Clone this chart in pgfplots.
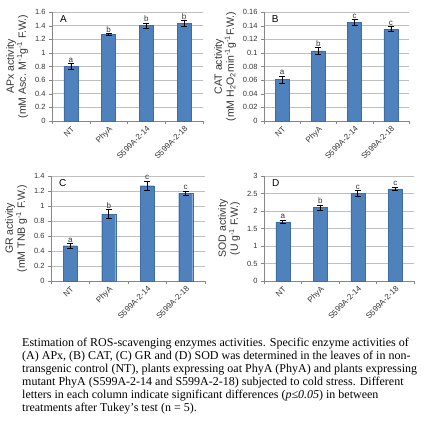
\documentclass[border=0pt]{standalone}
\usepackage{fontspec}
\setmainfont{Liberation Serif}
\setsansfont{Liberation Sans}
\usepackage{pgfplots}
\usepackage{pgfplotstable}
\pgfplotsset{compat=1.18}
\definecolor{barblue}{HTML}{4F81BD}
\definecolor{baredge}{HTML}{3C6BA6}
\definecolor{gridgray}{HTML}{BFBFBF}
\definecolor{axgray}{HTML}{868686}

\pgfplotstableread{
x y e l
0 0.80 0.045 a
1 1.27 0.010 b
2 1.40 0.040 b
3 1.43 0.045 b
}\dataA
\pgfplotstableread{
x y e l
0 0.061 0.005 a
1 0.103 0.005 b
2 0.145 0.004 c
3 0.135 0.004 c
}\dataB
\pgfplotstableread{
x y e l
0 0.47 0.030 a
1 0.89 0.060 b
2 1.27 0.060 c
3 1.17 0.030 c
}\dataC
\pgfplotstableread{
x y e l
0 1.69 0.050 a
1 2.10 0.070 b
2 2.50 0.080 c
3 2.63 0.050 c
}\dataD

\pgfplotsset{
  panel/.style={
    scale only axis,
    anchor=south west,
    xmin=-0.5, xmax=3.5, ymin=0,
    axis x line*=bottom, axis y line*=left,
    axis line style={axgray, -},
    xtick={0,1,2,3},
    xticklabels={NT,PhyA,S599A-2-14,S599A-2-18},
    major x tick style={draw=none},
    minor xtick={-0.5,0.5,1.5,2.5,3.5},
    minor x tick style={axgray},
    minor tick length=3pt,
    major tick length=3pt,
    tick align=outside,
    ytick style={axgray},
    ymajorgrids,
    grid style={gridgray, line width=0.5pt},
    xticklabel style={rotate=45, anchor=north east, inner sep=1pt, font=\sffamily\fontsize{8}{9}\selectfont, text=black!80},
    yticklabel style={font=\sffamily\fontsize{7.5}{8}\selectfont, text=black!80},
    /pgf/number format/assume math mode=true,
    /pgf/number format/fixed,
    /pgf/number format/precision=2,
    scaled y ticks=false,
    ylabel style={align=center, font=\sffamily\fontsize{10.5}{12}\selectfont, text=black!80},
    clip=false,
  },
  bars/.style={ybar, bar width=14pt, fill=barblue, draw=baredge,
    error bars/.cd, y dir=both, y explicit,
    error bar style={black, line width=0.6pt},
    error mark options={rotate=90, mark size=3pt, black, line width=0.6pt}},
  letters/.style={only marks, mark=none, nodes near coords, point meta=explicit symbolic,
    nodes near coords style={font=\sffamily\fontsize{8}{9}\selectfont, text=black!80, anchor=south, inner sep=1pt}},
}

\begin{document}
\begin{tikzpicture}
\path[use as bounding box] (0pt,0pt) rectangle (428pt,429pt);

% Panel A
\begin{axis}[panel, at={(52pt,308pt)}, width=151pt, height=109pt,
  ymax=1.6, ytick distance=0.2,
  ylabel={APx activity\\(mM Asc. M\textsuperscript{-1}g\textsuperscript{-1} F.W.)}]
\addplot[bars] table[x=x, y=y, y error=e] {\dataA};
\addplot[letters] table[x=x, y expr=\thisrow{y}+\thisrow{e}, meta=l] {\dataA};
\node[anchor=north west, font=\sffamily\fontsize{10}{11}\selectfont] at (rel axis cs:0.03,1.0) {A};
\end{axis}

% Panel B
\begin{axis}[panel, at={(264pt,308pt)}, width=145pt, height=109pt,
  ymax=0.16, ytick distance=0.02,
  ylabel={CAT activity\\(mM H\textsubscript{2}O\textsubscript{2}min\textsuperscript{-1}g\textsuperscript{-1}F.W.)}]
\addplot[bars] table[x=x, y=y, y error=e] {\dataB};
\addplot[letters] table[x=x, y expr=\thisrow{y}+\thisrow{e}, meta=l] {\dataB};
\node[anchor=north west, font=\sffamily\fontsize{10}{11}\selectfont] at (rel axis cs:0.03,1.0) {B};
\end{axis}

% Panel C
\begin{axis}[panel, at={(51pt,148pt)}, width=154pt, height=105pt,
  ymax=1.4, ytick distance=0.2,
  ylabel={GR activity\\(mM TNB g\textsuperscript{-1} F.W.)}]
\addplot[bars] table[x=x, y=y, y error=e] {\dataC};
\addplot[letters] table[x=x, y expr=\thisrow{y}+\thisrow{e}, meta=l] {\dataC};
\node[anchor=north west, font=\sffamily\fontsize{10}{11}\selectfont] at (rel axis cs:0.03,1.0) {C};
\end{axis}

% Panel D
\begin{axis}[panel, at={(264pt,148pt)}, width=150pt, height=105pt,
  ymax=3, ytick distance=0.5,
  ylabel={SOD activity\\(U g\textsuperscript{-1} F.W.)}]
\addplot[bars] table[x=x, y=y, y error=e] {\dataD};
\addplot[letters] table[x=x, y expr=\thisrow{y}+\thisrow{e}, meta=l] {\dataD};
\node[anchor=north west, font=\sffamily\fontsize{10}{11}\selectfont] at (rel axis cs:0.03,1.0) {D};
\end{axis}

\node[anchor=north west, inner sep=0pt, align=left, font=\fontsize{12}{13}\selectfont] at (22pt,91pt) {%
Estimation of ROS-scavenging enzymes activities. Specific enzyme activities of\\
(A) APx, (B) CAT, (C) GR and (D) SOD was determined in the leaves of in non-\\
transgenic control (NT), plants expressing oat PhyA (PhyA) and plants expressing\\
mutant PhyA (S599A-2-14 and S599A-2-18) subjected to cold stress. Different\\
letters in each column indicate significant differences (\textit{p≤0.05}) in between\\
treatments after Tukey’s test (n = 5).};
\end{tikzpicture}
\end{document}
